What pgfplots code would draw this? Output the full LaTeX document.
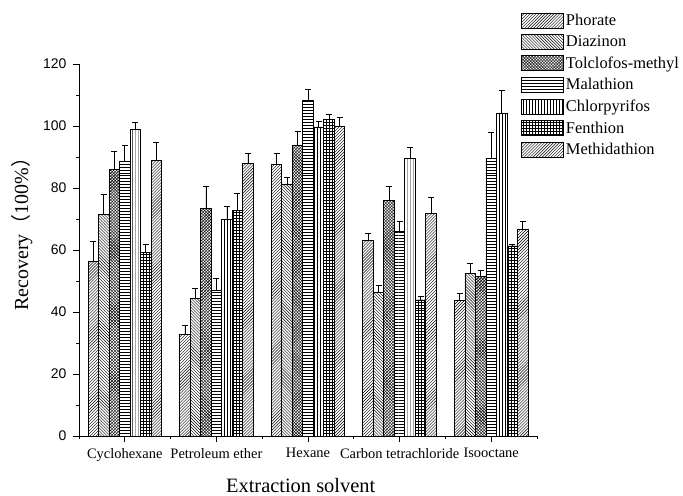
\documentclass[border=0pt]{standalone}
\usepackage{pgfplots}
\pgfplotsset{compat=1.18}
\usetikzlibrary{patterns}
\usepackage{fontspec}
\setmainfont{Liberation Serif}
\newfontfamily\arial{Liberation Sans}
\newfontfamily\cjk{Noto Sans CJK SC}
\begin{document}
\begin{tikzpicture}
\begin{axis}[
  scale only axis, width=458bp, height=372bp,
  xmin=-0.5, xmax=4.5, ymin=0, ymax=120,
  axis x line*=bottom, axis y line*=left,
  axis line style={line width=0.8pt},
  ybar=0pt, bar width=10.5bp,
  xtick={0,1,2,3,4},
  xticklabels={Cyclohexane, Petroleum ether, Hexane, Carbon tetrachloride, Isooctane},
  minor xtick={-0.5,0.5,1.5,2.5,3.5,4.5},
  ytick={0,20,...,120}, minor y tick num=1,
  tick align=outside, major tick length=6bp, minor tick length=3bp,
  tick style={line width=0.8pt, black},
  /pgf/number format/assume math mode=true,
  yticklabel style={font=\arial\fontsize{14}{15}\selectfont, xshift=-3bp},
  xticklabel style={font=\fontsize{14.5}{16}\selectfont, yshift=-3bp},
  xlabel={Extraction solvent}, ylabel={Recovery{\cjk （}100\%{\cjk ）}},
  xlabel style={font=\fontsize{20.5}{22}\selectfont, at={(axis description cs:0.484,-0.132)}, anchor=center},
  ylabel style={font=\fontsize{20}{22}\selectfont, at={(axis description cs:-0.125,0.556)}, anchor=center},
  legend style={at={(0.965,1.14)}, anchor=north west, draw=none, fill=none,
    font=\fontsize{16.5}{18}\selectfont, inner sep=0pt, row sep=4.7bp,
    /tikz/every even column/.append style={column sep=3bp}},
  legend cell align=left,
  legend image code/.code={\draw[#1, line width=0.8pt] (0bp,-7.5bp) rectangle (42bp,7.5bp);},
  every axis plot/.append style={draw=black, line width=0.8pt,
    error bars/y dir=plus, error bars/y explicit,
    error bars/error bar style={line width=0.8pt, black},
    error bars/error mark options={rotate=90, mark size=3bp, line width=0.8pt, black}},
]
\addplot[pattern=north east lines] coordinates {(0,56.2)+-(0,6.5) (1,32.8)+-(0,2.8) (2,87.6)+-(0,3.6) (3,63.1)+-(0,2.2) (4,43.6)+-(0,2.4)};
\addplot[pattern=north west lines] coordinates {(0,71.6)+-(0,6.4) (1,44.4)+-(0,3.2) (2,81.3)+-(0,2.0) (3,46.4)+-(0,2.2) (4,52.5)+-(0,3.2)};
\addplot[pattern=crosshatch] coordinates {(0,86.1)+-(0,5.8) (1,73.3)+-(0,7.1) (2,93.9)+-(0,4.5) (3,76.0)+-(0,4.4) (4,51.6)+-(0,1.7)};
\addplot[pattern=horizontal lines] coordinates {(0,88.7)+-(0,5.2) (1,46.9)+-(0,4.0) (2,108.1)+-(0,3.6) (3,65.9)+-(0,3.2) (4,89.6)+-(0,8.2)};
\addplot[pattern=vertical lines] coordinates {(0,98.9)+-(0,2.3) (1,69.9)+-(0,4.1) (2,99.7)+-(0,1.8) (3,89.4)+-(0,3.7) (4,104.1)+-(0,7.3)};
\addplot[pattern=grid] coordinates {(0,59.2)+-(0,2.6) (1,72.9)+-(0,5.4) (2,102.1)+-(0,1.7) (3,43.9)+-(0,1.2) (4,61.3)+-(0,0.4)};
\addplot[pattern=north east lines] coordinates {(0,89.0)+-(0,5.7) (1,87.8)+-(0,3.4) (2,100.0)+-(0,2.9) (3,71.7)+-(0,5.4) (4,66.5)+-(0,2.6)};
\legend{Phorate, Diazinon, Tolclofos-methyl, Malathion, Chlorpyrifos, Fenthion, Methidathion}
\coordinate (o) at (rel axis cs:0,0);
\end{axis}
\path (o) ++(-79bp,-60bp) rectangle ++(683bp,496bp);
\end{tikzpicture}
\end{document}
